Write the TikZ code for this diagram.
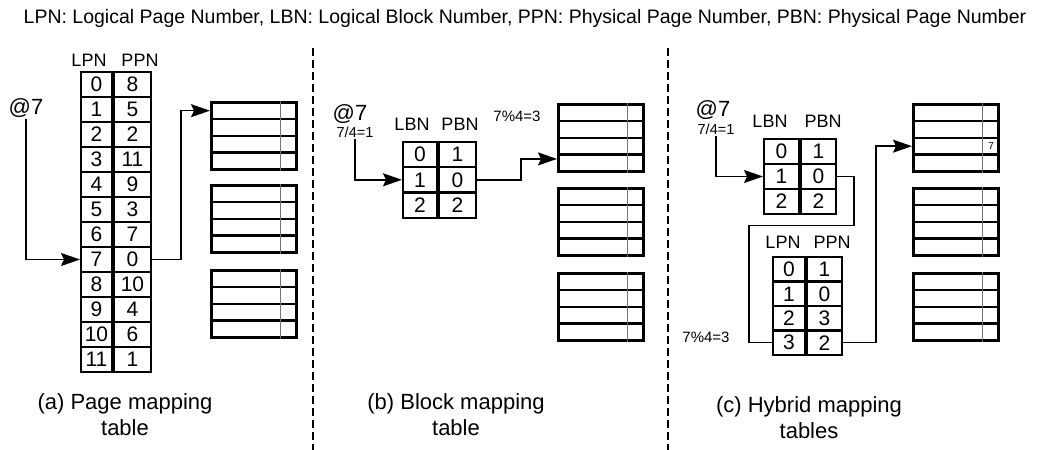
\documentclass[tikz,border=0pt]{standalone}
\usepackage{fontspec}
\setmainfont{Liberation Sans}
\usetikzlibrary{arrows.meta, positioning, calc}

\begin{document}
\begin{tikzpicture}[x=1pt, y=-1pt,
        cell/.style={draw=black, line width=2pt, minimum height=25pt, inner sep=0pt, anchor=north west, font=\fontsize{21}{21}\selectfont},
        page/.style={draw=black, line width=2.6pt, minimum width=85pt, minimum height=16.75pt, inner sep=0pt, anchor=north west},
        spare/.style={draw=black!55, line width=1.4pt},
        hdr/.style={font=\fontsize{18}{18}\selectfont, inner sep=1pt},
        addr/.style={font=\fontsize{22}{22}\selectfont, inner sep=1pt},
        calc/.style={font=\fontsize{14.5}{14.5}\selectfont, inner sep=1pt},
        caption/.style={font=\fontsize{22}{26}\selectfont, align=center},
        sep/.style={draw=black, line width=2.6pt, dash pattern=on 8pt off 4pt},
        wire/.style={draw=black, line width=1.4pt},
        line/.style={wire, -{Stealth[length=19pt, width=13pt, inset=3pt]}}
    ]
        \path[use as bounding box, fill=white] (0,0) rectangle (1045,450);

        % Leyenda superior
        \node [font=\fontsize{19.5}{20}\selectfont] (title) at (525,18) {LPN: Logical Page Number, LBN: Logical Block Number, PPN: Physical Page Number, PBN: Physical Page Number};

        % Separadores entre los tres casos
        \draw [sep] (313,48) -- (313,450);
        \draw [sep] (668,48) -- (668,450);

        % Bloques fisicos (4 paginas cada uno)
        \foreach \name/\x/\y in {a1/210/101, a2/210/184, a3/210/269, b1/557/103, b2/557/187, b3/557/272, c1/912/103, c2/912/187, c3/912/272} {
            \foreach \r in {1,...,4}
                \node [page] (\name-\r) at (\x, \y+16.75*\r-16.75) {};
            \draw [spare] ($(\name-1.north east)+(-17,0)$) -- ($(\name-4.south east)+(-17,0)$);
        }

        % (a) Tabla de mapeo por pagina
        \node [hdr] (a-lh) at (89,60) {LPN};
        \node [hdr] (a-ph) at (140,60) {PPN};
        \foreach \l/\p [count=\i from 0] in {0/8, 1/5, 2/2, 3/11, 4/9, 5/3, 6/7, 7/0, 8/10, 9/4, 10/6, 11/1} {
            \node [cell, minimum width=31pt] (a-lpn-\i) at (80, 71+25*\i) {\l};
            \node [cell, minimum width=37pt, right=0pt of a-lpn-\i] (a-ppn-\i) {\p};
        }
        \node [addr] (a-at) at (26,108) {@7};
        \draw [line] (a-at.south) |- (a-lpn-7.west);
        \draw [line] (a-ppn-7.east) -- ++(29,0) |- (a1-1.west);
        \node [caption] (a-cap) at (125,415) {(a) Page mapping\\table};

        % (b) Tabla de mapeo por bloque
        \node [hdr] (b-lh) at (412,124) {LBN};
        \node [hdr] (b-ph) at (460,124) {PBN};
        \foreach \l/\p [count=\i from 0] in {0/1, 1/0, 2/2} {
            \node [cell, minimum width=34pt] (b-lbn-\i) at (402, 141+25.3*\i) {\l};
            \node [cell, minimum width=37pt, right=0pt of b-lbn-\i] (b-pbn-\i) {\p};
        }
        \node [addr] (b-at) at (350,114) {@7};
        \node [calc] (b-div) at (355,132) {7/4=1};
        \node [calc, font=\fontsize{15}{15}\selectfont] (b-mod) at (517,116) {7\%4=3};
        \draw [line] (b-div.south) |- (b-lbn-1.west);
        \draw [line] (b-pbn-1.east) -- ++(44,0) |- ($(b1-4.west)+(0,-4)$);
        \node [caption] (b-cap) at (456,415) {(b) Block mapping\\table};

        % (c) Tablas de mapeo hibrido
        \node [hdr] (c-lh) at (770,121) {LBN};
        \node [hdr] (c-ph) at (823,121) {PBN};
        \foreach \l/\p [count=\i from 0] in {0/1, 1/0, 2/2} {
            \node [cell, minimum width=35pt] (c-lbn-\i) at (763, 138+25*\i) {\l};
            \node [cell, minimum width=35pt, right=0pt of c-lbn-\i] (c-pbn-\i) {\p};
        }
        \node [hdr] (c-lph) at (783,242) {LPN};
        \node [hdr] (c-pph) at (832,242) {PPN};
        \foreach \l/\p [count=\i from 0] in {0/1, 1/0, 2/3, 3/2} {
            \node [cell, minimum width=32pt] (c-lpn-\i) at (772, 256+24.4*\i) {\l};
            \node [cell, minimum width=35pt, right=0pt of c-lpn-\i] (c-ppn-\i) {\p};
        }
        \node [addr] (c-at) at (713,110) {@7};
        \node [calc] (c-div) at (716,129) {7/4=1};
        \node [calc, font=\fontsize{15}{15}\selectfont] (c-mod) at (706,337) {7\%4=3};
        \node [inner sep=0pt, font=\fontsize{10}{10}\selectfont] (c-hit) at ($(c1-3.east)+(-8.5,0)$) {7};
        \coordinate (c-bend) at (749,226);
        \draw [line] (c-div.south) |- (c-lbn-1.west);
        \draw [wire] (c-pbn-1.east) -| ++(17,49) -| (c-bend) |- (c-lpn-3.west);
        \draw [line] (c-ppn-3.east) -- ++(33,0) |- (c1-3.west);
        \node [caption] (c-cap) at (809,418) {(c) Hybrid mapping\\tables};
    \end{tikzpicture}
\end{document}
